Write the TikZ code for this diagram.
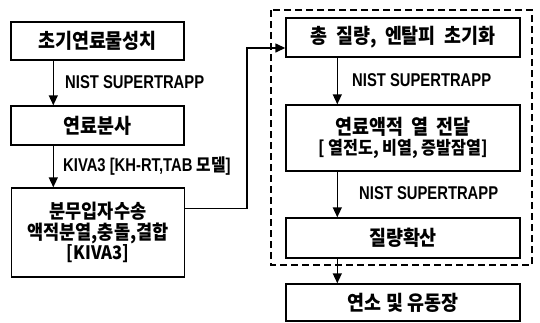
\documentclass[tikz,border=0pt]{standalone}
\usepackage{fontspec}
\setmainfont{Noto Sans CJK KR}[FakeStretch=0.9]
\newfontfamily\labfont[FakeStretch=0.8]{Liberation Sans}
\newfontfamily\cjk[FakeStretch=0.9]{Noto Sans CJK KR}
\usetikzlibrary{arrows.meta,calc}
\tikzset{
  box/.style={draw=black, line width=1.4pt, fill=white, inner sep=0pt, align=center,
    font=\fontsize{20.5}{19.5}\selectfont\bfseries},
  lbox/.style={box, minimum width=173pt},
  rbox/.style={box, minimum width=234pt},
  arr/.style={draw=black, line width=1.4pt, -{Triangle[length=10pt,width=9pt]}},
  lab/.style={inner sep=0pt, anchor=west, font=\fontsize{18.5}{18}\labfont\bfseries},
  grp/.style={draw=black, line width=1.4pt, dash pattern=on 7pt off 4pt}
}
\begin{document}
\begin{tikzpicture}[x=1pt,y=-1pt]
\useasboundingbox (0,0) rectangle (540,322);
% dashed group
\draw[grp] (271,10) rectangle (532,265);
% left column
\node[lbox, minimum height=38pt] (b1) at (97.5,41) {초기연료물성치};
\node[lbox, minimum height=39pt] (b2) at (97.5,125.5) {연료분사};
\node[lbox, minimum height=89pt, font=\fontsize{19.5}{20.5}\selectfont\bfseries] (b3) at (98,232.5) {분무입자수송\\액적분열,충돌,결합\\{\fontsize{18.5}{20}\selectfont{[}KIVA3{]}}};
% right column
\node[rbox, minimum height=39pt] (b4) at (403,37.5) {총\ \ 질량,\ \ 엔탈피\ \ 초기화};
\node[rbox, minimum height=66pt] (b5) at (403,138) {연료액적\ \ 열\ \ 전달\\{\fontsize{18}{20}\selectfont{[}\ 열전도, 비열, 증발잠열{]}}};
\node[rbox, minimum height=40pt] (b6) at (403,238) {질량확산};
\node[rbox, minimum height=37pt] (b7) at (403,302.5) {연소 및 유동장};
% labels
\node[lab] (l1) at (65,82) {NIST SUPERTRAPP};
\node[lab] (l2) at (63,166) {KIVA3 [KH-RT,TAB {\cjk\fontsize{17.5}{17}\selectfont 모델}]};
\node[lab] (l3) at (352,80) {NIST SUPERTRAPP};
\node[lab] (l4) at (359,193) {NIST SUPERTRAPP};
% connectors
\draw[arr] ($(b1.south west)+(43,0)$) coordinate (c1) -- (c1 |- b2.north);
\draw[arr] ($(b2.south west)+(43,0)$) coordinate (c2) -- (c2 |- b3.north);
\coordinate (bend) at (247,48);
\draw[arr] ($(b3.north east)+(0,21)$) coordinate (c3) -| (bend) -- (b4.west |- bend);
\draw[arr] ($(b4.south west)+(52,0)$) coordinate (c4) -- (c4 |- b5.north);
\draw[arr] ($(b5.south west)+(52,0)$) coordinate (c5) -- (c5 |- b6.north);
\draw[arr] ($(b6.south west)+(52,0)$) coordinate (c6) -- (c6 |- b7.north);
\end{tikzpicture}
\end{document}
